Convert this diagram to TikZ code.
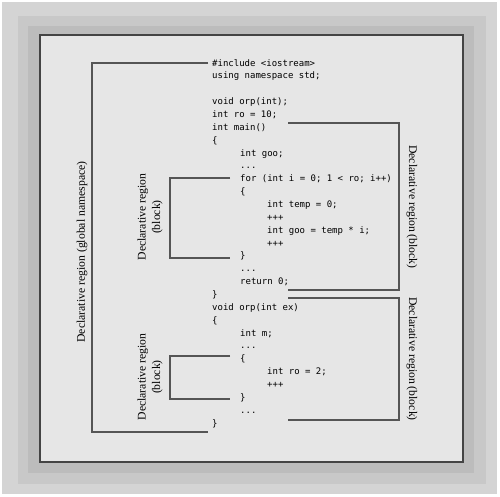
\documentclass[tikz,border=0pt]{standalone}
\usepackage{fontspec}
\setmainfont{Liberation Serif}
\setmonofont{DejaVu Sans Mono}
\definecolor{fondo}{HTML}{D4D4D4}
\definecolor{sombra1}{HTML}{C8C8C8}
\definecolor{sombra2}{HTML}{BCBCBC}
\definecolor{panel}{HTML}{E6E6E6}
\definecolor{borde}{HTML}{555555}
\tikzset{
  code/.style={anchor=base west,inner sep=0pt,font=\ttfamily\fontsize{9}{11}\selectfont},
  lbl/.style={inner sep=0pt,align=center,font=\fontsize{11.7}{14.5}\selectfont},
  brk/.style={draw=borde,line width=1.4pt}
}
\begin{document}
\begin{tikzpicture}[x=1pt,y=-1pt]
\useasboundingbox (0,0) rectangle (500,496);
% Fondo, sombra y panel
\fill[fondo] (2,2) rectangle (497,494);
\fill[sombra1] (18,16) rectangle (486,484);
\fill[sombra2] (28,26) rectangle (474,473);
\draw[fill=panel,draw=borde!80!black,line width=1.6pt] (40,35) rectangle (463,462);
% Codigo:
\node[code] (inc)   at (212,66)     {\#include <iostream>};
\node[code] (usng)  at (212,78.86)  {using namespace std;};
\node[code] (proto) at (212,104.57) {void orp(int);};
\node[code] (ro)    at (212,117.43) {int ro = 10;};
\node[code] (mainf) at (212,130.29) {int main()};
\node[code] (mopen) at (212,143.14) {\{};
\node[code] (goo)   at (240,156)    {int goo;};
\node[code] (dotsa) at (240,168.86) {...};
\node[code] (forl)  at (240,181.71) {for (int i = 0; 1 < ro; i++)};
\node[code] (fopen) at (240,194.57) {\{};
\node[code] (temp)  at (267,207.43) {int temp = 0;};
\node[code] (plsa)  at (267,220.29) {+++};
\node[code] (goob)  at (267,233.14) {int goo = temp * i;};
\node[code] (plsb)  at (267,246)    {+++};
\node[code] (fclose) at (240,258.86) {\}};
\node[code] (dotsb) at (240,271.71) {...};
\node[code] (ret)   at (240,284.57) {return 0;};
\node[code] (mclose) at (212,297.43) {\}};
\node[code] (orpf)  at (212,310.29) {void orp(int ex)};
\node[code] (oopen) at (212,323.14) {\{};
\node[code] (intm)  at (240,336)    {int m;};
\node[code] (dotsc) at (240,348.86) {...};
\node[code] (bopen) at (240,361.71) {\{};
\node[code] (rob)   at (267,374.57) {int ro = 2;};
\node[code] (plsc)  at (267,387.43) {+++};
\node[code] (bclose) at (240,400.29) {\}};
\node[code] (dotsd) at (240,413.14) {...};
\node[code] (oclose) at (212,426)   {\}};
% Corchetes
\coordinate (g1) at (208,63);  \coordinate (g2) at (92,63);
\coordinate (g3) at (92,432);  \coordinate (g4) at (208,432);
\draw[brk] (g1) -- (g2) -- (g3) -- (g4);
\coordinate (m1) at (288,123); \coordinate (m2) at (399,123);
\coordinate (m3) at (399,290); \coordinate (m4) at (288,290);
\draw[brk] (m1) -- (m2) -- (m3) -- (m4);
\coordinate (o1) at (288,298); \coordinate (o2) at (399,298);
\coordinate (o3) at (399,420); \coordinate (o4) at (288,420);
\draw[brk] (o1) -- (o2) -- (o3) -- (o4);
\coordinate (f1) at (230,178); \coordinate (f2) at (170,178);
\coordinate (f3) at (170,258); \coordinate (f4) at (230,258);
\draw[brk] (f1) -- (f2) -- (f3) -- (f4);
\coordinate (b1) at (230,356); \coordinate (b2) at (170,356);
\coordinate (b3) at (170,399); \coordinate (b4) at (230,399);
\draw[brk] (b1) -- (b2) -- (b3) -- (b4);
% Etiquetas
\node[lbl,rotate=90]  (glob)  at (82,252)  {Declarative region (global namespace)};
\node[lbl,rotate=-90] (mainr) at (412,207) {Declarative region (block)};
\node[lbl,rotate=-90] (orpr)  at (412,359) {Declarative region (block)};
\node[lbl,rotate=90]  (forr)  at (150,217) {Declarative region\\(block)};
\node[lbl,rotate=90]  (blkr)  at (150,377) {Declarative region\\(block)};
\end{tikzpicture}
\end{document}
